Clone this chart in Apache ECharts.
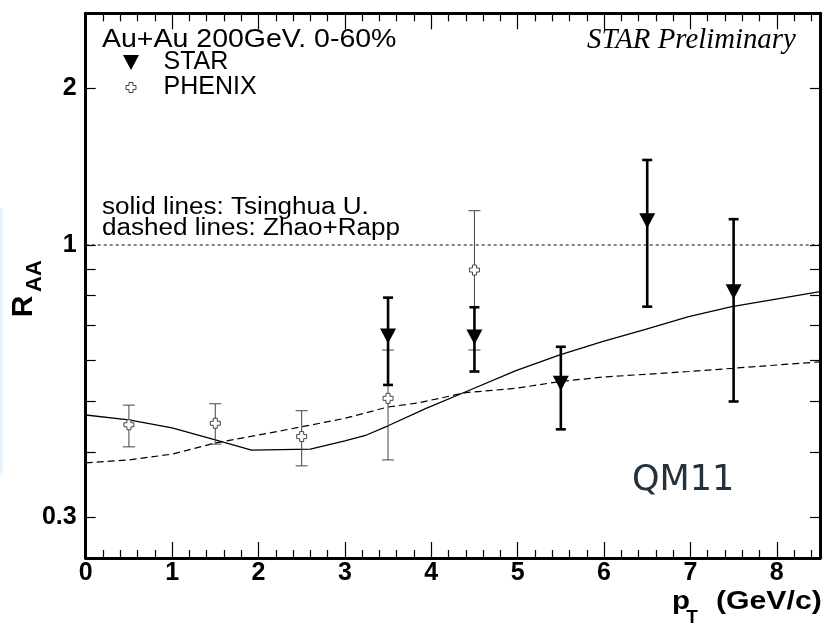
<!DOCTYPE html>
<html><head><meta charset="utf-8">
<script src="https://cdn.jsdelivr.net/npm/echarts@6/dist/echarts.min.js"></script>
<style>html,body{margin:0;padding:0;background:#fff}#c{width:823px;height:625px}</style>
</head><body><div id="c"></div>
<script>
// ---- data ----
const xTickLabels = [0, 1, 2, 3, 4, 5, 6, 7, 8];
const yTickLabels = [0.3, 1, 2];
const yTicks = [0.3, 0.4, 0.5, 0.6, 0.7, 0.8, 0.9, 1, 2];
const xMinorTicks = [];
for (let i = 1; i <= 42; i++) { if (i % 5) xMinorTicks.push(+(i * 0.2).toFixed(1)); }

const starX = [3.5, 4.5, 5.5, 6.5, 7.5];
const starY = [0.668, 0.665, 0.542, 1.113, 0.813];
const starHigh = [0.792, 0.759, 0.637, 1.457, 1.121];
const starLow = [0.538, 0.571, 0.442, 0.761, 0.500];

const phenixX = [0.5, 1.5, 2.5, 3.5, 4.5];
const phenixY = [0.451, 0.454, 0.428, 0.507, 0.895];
const phenixHigh = [0.492, 0.495, 0.480, 0.628, 1.164];
const phenixLow = [0.409, 0.414, 0.376, 0.386, 0.628];

const tsinghuaX = [0, 0.5, 1, 1.5, 1.92, 2.6, 3, 3.25, 3.5, 3.94, 4.4, 4.98, 5.48, 5.98, 6.48, 6.98, 7.48, 7.94, 8.5];
const tsinghuaY = [0.471, 0.461, 0.445, 0.422, 0.403, 0.405, 0.420, 0.431, 0.449, 0.485, 0.522, 0.573, 0.614, 0.652, 0.688, 0.728, 0.761, 0.784, 0.813];

const rappX = [0, 0.5, 1, 1.5, 2, 2.5, 3, 3.5, 3.85, 4.4, 4.98, 5.48, 5.98, 6.98, 7.48, 8.5];
const rappY = [0.381, 0.386, 0.396, 0.416, 0.431, 0.447, 0.464, 0.488, 0.497, 0.520, 0.530, 0.546, 0.557, 0.571, 0.579, 0.596];

const unityX = [0, 8.5];
const unityY = [1, 1];

// ---- build ----
const zip = (a, b) => a.map((v, i) => [v, b[i]]);
const zip3 = (a, b, c) => a.map((v, i) => [v, b[i], c[i]]);

function errRender(lw, cap, color) {
  return function (params, api) {
    const x = api.value(0), lo = api.value(1), hi = api.value(2);
    const p1 = api.coord([x, lo]), p2 = api.coord([x, hi]);
    const style = { stroke: color, lineWidth: lw, fill: null };
    return { type: 'group', children: [
      { type: 'line', shape: { x1: p1[0], y1: p1[1], x2: p2[0], y2: p2[1] }, style },
      { type: 'line', shape: { x1: p1[0] - cap / 2, y1: p1[1], x2: p1[0] + cap / 2, y2: p1[1] }, style },
      { type: 'line', shape: { x1: p2[0] - cap / 2, y1: p2[1], x2: p2[0] + cap / 2, y2: p2[1] }, style }
    ]};
  };
}

const F = '"Liberation Sans", Arial, sans-serif';
const tickStyle = { color: '#000', width: 1.2 };
const xBase = { type: 'value', min: 0, max: 8.5, splitLine: { show: false } };
const yBase = { type: 'log', logBase: 10, min: 0.25, max: 2.79, splitLine: { show: false } };

const triPath = 'path://M0,0L16,0L8,15Z';
const crossPath = 'path://M3,0H7V3H10V7H7V10H3V7H0V3H3Z';
const crossLegend = 'path://M-2.5,-2.5M12.5,12.5M3,0H7V3H10V7H7V10H3V7H0V3H3Z';

function txt(x, y, text, font, opts, align, fill) {
  const a = align || 'left';
  return Object.assign({ type: 'text', x, y, silent: true, style: { text, font, fill: fill || '#000', align: a, verticalAlign: 'middle', textAlign: a, textVerticalAlign: 'middle' } }, opts || {});
}

const chart = echarts.init(document.getElementById('c'), null, { renderer: 'canvas' });
chart.setOption({
  animation: false,
  backgroundColor: '#fff',
  grid: { left: 85.7, top: 13.3, width: 734.3, height: 544.7, containLabel: false, outerBoundsMode: 'none' },
  xAxis: [
    Object.assign({}, xBase, { position: 'bottom',
      axisLine: { show: true, onZero: false, lineStyle: { color: '#000', width: 3 } },
      axisTick: { show: true, inside: true, length: 16, customValues: xTickLabels, lineStyle: tickStyle },
      axisLabel: { customValues: xTickLabels, margin: 3, fontFamily: F, fontWeight: 'bold', fontSize: 25, color: '#000' } }),
    Object.assign({}, xBase, { position: 'bottom',
      axisLine: { show: false, onZero: false },
      axisTick: { show: true, inside: true, length: 8, customValues: xMinorTicks, lineStyle: tickStyle },
      axisLabel: { show: false } }),
    Object.assign({}, xBase, { position: 'top',
      axisLine: { show: true, onZero: false, lineStyle: { color: '#000', width: 3 } },
      axisTick: { show: true, inside: true, length: 16, customValues: xTickLabels, lineStyle: tickStyle },
      axisLabel: { show: false } }),
    Object.assign({}, xBase, { position: 'top',
      axisLine: { show: false, onZero: false },
      axisTick: { show: true, inside: true, length: 8, customValues: xMinorTicks, lineStyle: tickStyle },
      axisLabel: { show: false } })
  ],
  yAxis: [
    Object.assign({}, yBase, { position: 'left',
      axisLine: { show: true, onZero: false, lineStyle: { color: '#000', width: 3 } },
      axisTick: { show: true, inside: true, length: 10, customValues: yTicks, lineStyle: tickStyle },
      axisLabel: { customValues: yTickLabels, margin: 9, fontFamily: F, fontWeight: 'bold', fontSize: 25, color: '#000',
        formatter: v => String(+(+v).toPrecision(3)) } }),
    Object.assign({}, yBase, { position: 'right',
      axisLine: { show: true, onZero: false, lineStyle: { color: '#000', width: 3 } },
      axisTick: { show: true, inside: true, length: 10, customValues: yTicks, lineStyle: tickStyle },
      axisLabel: { show: false } })
  ],
  legend: {
    show: true, orient: 'vertical', left: 118, top: 45, itemWidth: 55, itemHeight: 15, itemGap: 0,
    selectedMode: false,
    textStyle: { fontFamily: F, fontSize: 25, color: '#000', lineHeight: 24 },
    data: [
      { name: 'STAR', icon: triPath, itemStyle: { color: '#000', borderWidth: 0 } },
      { name: 'PHENIX', icon: crossLegend, itemStyle: { color: '#fff', borderColor: '#444', borderWidth: 1 } }
    ]
  },
  series: [
    { name: 'unity', type: 'line', data: zip(unityX, unityY), showSymbol: false, silent: true, z: 2,
      lineStyle: { color: '#000', width: 1, type: [3, 3] } },
    { name: 'Tsinghua U.', type: 'line', data: zip(tsinghuaX, tsinghuaY), showSymbol: false, z: 2,
      lineStyle: { color: '#000', width: 1.3 } },
    { name: 'Zhao+Rapp', type: 'line', data: zip(rappX, rappY), showSymbol: false, z: 2,
      lineStyle: { color: '#000', width: 1.2, type: [7, 4] } },
    { name: 'PHENIX err', type: 'custom', data: zip3(phenixX, phenixLow, phenixHigh), z: 3,
      encode: { x: 0, y: [1, 2] }, renderItem: errRender(1, 12, '#444') },
    { name: 'STAR err', type: 'custom', data: zip3(starX, starLow, starHigh), z: 3,
      encode: { x: 0, y: [1, 2] }, renderItem: errRender(2.6, 10, '#000') },
    { name: 'PHENIX', type: 'scatter', data: zip(phenixX, phenixY), symbol: crossPath, symbolSize: 10, z: 4,
      itemStyle: { color: '#fff', borderColor: '#444', borderWidth: 1, opacity: 1 } },
    { name: 'STAR', type: 'scatter', data: zip(starX, starY), symbol: triPath, symbolSize: [16, 15], z: 4,
      itemStyle: { color: '#000', opacity: 1 } }
  ],
  graphic: [
    { type: 'rect', left: 0, top: 208, silent: true, shape: { width: 3, height: 267 }, style: { fill: '#e9f4fc' } },
    txt(102, 40.5, 'Au+Au 200GeV. 0-60%', '25px ' + F, { scaleX: 1.14 }),
    txt(102, 208, 'solid lines: Tsinghua U.', '23.5px ' + F, { scaleX: 1.11 }),
    txt(102, 228.5, 'dashed lines: Zhao+Rapp', '23.5px ' + F, { scaleX: 1.11 }),
    txt(587, 40.5, 'STAR Preliminary', 'italic 28.8px "Liberation Serif", "Times New Roman", serif'),
    txt(632, 481, 'QM11', '35px "DejaVu Sans", Verdana, sans-serif', null, 'left', '#25313c'),
    txt(24, 306.5, 'R', 'bold 30px ' + F, { rotation: Math.PI / 2 }, 'center'),
    txt(35, 276, 'AA', 'bold 22px ' + F, { rotation: Math.PI / 2 }, 'center'),
    txt(672, 602, 'p', 'bold 25.6px ' + F, { scaleX: 1.15 }),
    txt(692, 618, 'T', 'bold 19px ' + F, null, 'center'),
    txt(716, 602, '(GeV/c)', 'bold 25.6px ' + F, { scaleX: 1.18 })
  ]
});
</script>
</body></html>
